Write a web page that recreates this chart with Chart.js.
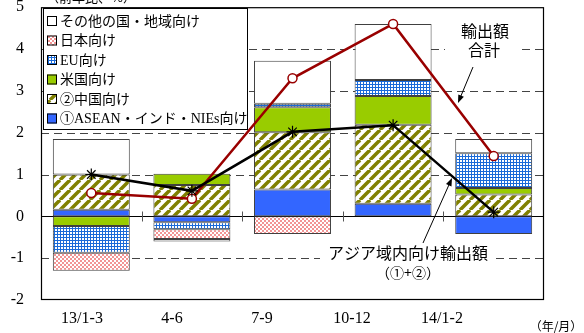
<!DOCTYPE html>
<html lang="ja">
<head>
<meta charset="utf-8">
<script src="https://cdn.jsdelivr.net/npm/chart.js@4.4.1/dist/chart.umd.min.js"></script>
<style>
  html, body { margin: 0; padding: 0; background: #fff; }
  #wrap { width: 584px; height: 333px; }
</style>
</head>
<body>
<div id="wrap"><canvas id="exportChart" width="584" height="333"></canvas></div>
<script>
const periods = ['13/1-3', '4-6', '7-9', '10-12', '14/1-2'];
const aseanValues = [0.16, -0.14, 0.64, 0.30, -0.42];
const chinaValues = [0.84, 0.75, 1.37, 1.89, 0.52];
const usValues = [-0.23, 0.27, 0.60, 0.69, 0.16];
const euValues = [-0.64, -0.17, 0.08, 0.38, 0.83];
const japanValues = [-0.43, -0.23, -0.42, 0, 0];
const otherValues = [0.85, -0.06, 1.03, 1.34, 0.34];
const totalValues = [0.56, 0.42, 3.30, 4.60, 1.44];
const asiaValues = [1.00, 0.61, 2.02, 2.18, 0.10];
const yTicks = [5, 4, 3, 2, 1, 0, -1, -2];

const SERIF = '"Liberation Serif", "Noto Sans CJK JP"';
const GOTHIC = '"Noto Sans CJK JP", sans-serif';

function makePattern(size, draw) {
   const c = document.createElement('canvas');
   c.width = size;
   c.height = size;
   const g = c.getContext('2d');
   draw(g, size);
   return document.createElement('canvas').getContext('2d').createPattern(c, 'repeat');
}

// ② china: olive diagonal hatch
const chinaFill = makePattern(10, (g, s) => {
   g.fillStyle = '#fff';
   g.fillRect(0, 0, s, s);
   g.strokeStyle = '#808000';
   g.lineWidth = 3.5;
   for (const o of [-s, 0, s]) {
      g.beginPath();
      g.moveTo(o, s);
      g.lineTo(o + s, 0);
      g.stroke();
   }
});

// EU: blue grid with white squares
const euFill = makePattern(3, (g, s) => {
   g.fillStyle = '#1a6ad8';
   g.fillRect(0, 0, s, s);
   g.fillStyle = '#fff';
   g.fillRect(1, 1, 2, 2);
});

// Japan: light pink checker
const japanFill = makePattern(4, (g, s) => {
   g.fillStyle = '#fff';
   g.fillRect(0, 0, s, s);
   g.fillStyle = '#f29494';
   g.fillRect(0, 0, 2, 2);
   g.fillRect(2, 2, 2, 2);
});

const barStyle = {
   type: 'bar',
   stack: 'bars',
   order: 2,
   borderColor: '#404040',
   borderWidth: 1,
   borderSkipped: false,
   barPercentage: 0.765,
   categoryPercentage: 1
};

const datasets = [
   { ...barStyle, label: '①ASEAN・インド・NIEs向け', data: aseanValues, backgroundColor: '#3366ff' },
   { ...barStyle, label: '②中国向け', data: chinaValues, backgroundColor: chinaFill },
   { ...barStyle, label: '米国向け', data: usValues, backgroundColor: '#99cc00' },
   { ...barStyle, label: 'EU向け', data: euValues, backgroundColor: euFill },
   { ...barStyle, label: '日本向け', data: japanValues, backgroundColor: japanFill },
   { ...barStyle, label: 'その他の国・地域向け', data: otherValues, backgroundColor: '#fff' },
   {
      type: 'line', label: '輸出額合計', data: totalValues, stack: 'total', order: 1,
      borderColor: '#990000', borderWidth: 2.5, tension: 0,
      pointStyle: 'circle', pointRadius: 4.5, pointBackgroundColor: '#fff',
      pointBorderColor: '#990000', pointBorderWidth: 1.5
   },
   {
      type: 'line', label: 'アジア域内向け輸出額', data: asiaValues, stack: 'asia', order: 0,
      borderColor: '#000', borderWidth: 2.5, tension: 0,
      pointStyle: 'star', pointRadius: 6, pointBackgroundColor: '#fff',
      pointBorderColor: '#000', pointBorderWidth: 1.2
   }
];

function arrow(ctx, x1, y1, x2, y2) {
   const ang = Math.atan2(y2 - y1, x2 - x1);
   ctx.beginPath();
   ctx.moveTo(x1, y1);
   ctx.lineTo(x2 - 5 * Math.cos(ang), y2 - 5 * Math.sin(ang));
   ctx.stroke();
   ctx.beginPath();
   ctx.moveTo(x2, y2);
   ctx.lineTo(x2 - 8 * Math.cos(ang) + 3 * Math.sin(ang), y2 - 8 * Math.sin(ang) - 3 * Math.cos(ang));
   ctx.lineTo(x2 - 8 * Math.cos(ang) - 3 * Math.sin(ang), y2 - 8 * Math.sin(ang) + 3 * Math.cos(ang));
   ctx.closePath();
   ctx.fill();
}

const framePlugin = {
   id: 'frame',
   beforeDatasetsDraw(chart) {
      const { ctx, chartArea: a, scales: { x, y } } = chart;
      ctx.save();
      ctx.lineWidth = 1;
      ctx.strokeStyle = '#444';
      ctx.setLineDash([8, 5]);
      yTicks.forEach(v => {
         if (v === 0 || v === y.min || v === y.max) return;
         const py = Math.round(y.getPixelForValue(v)) + 0.5;
         ctx.beginPath();
         ctx.moveTo(a.left, py);
         ctx.lineTo(a.right, py);
         ctx.stroke();
      });
      ctx.setLineDash([]);
      ctx.strokeStyle = '#000';
      const y0 = Math.round(y.getPixelForValue(0)) + 0.5;
      ctx.beginPath();
      ctx.moveTo(a.left, y0);
      ctx.lineTo(a.right, y0);
      ctx.stroke();
      ctx.strokeStyle = '#555';
      for (let i = 0; i < periods.length - 1; i++) {
         const bx = Math.round((x.getPixelForValue(i) + x.getPixelForValue(i + 1)) / 2) + 0.5;
         ctx.beginPath();
         ctx.moveTo(bx, y0 - 5);
         ctx.lineTo(bx, y0 + 5);
         ctx.stroke();
      }
      ctx.strokeStyle = '#000';
      ctx.lineWidth = 1.2;
      ctx.strokeRect(a.left + 0.5, a.top + 0.5, a.width - 1, a.height - 1);
      ctx.restore();
   },
   afterDraw(chart) {
      const { ctx, chartArea: a } = chart;
      ctx.save();

      // unit label, cut off at the top edge
      ctx.fillStyle = '#000';
      ctx.font = `13px ${GOTHIC}`;
      ctx.textAlign = 'left';
      ctx.textBaseline = 'alphabetic';
      ctx.fillText('（前年比、%）', 46, 2);

      // x labels
      ctx.font = `16px ${SERIF}`;
      ctx.textAlign = 'center';
      ctx.textBaseline = 'middle';
      periods.forEach((p, i) => ctx.fillText(p, a.left + 41 + i * 90, 319));
      ctx.font = `12px ${GOTHIC}`;
      ctx.fillText('（年/月）', 556, 326);

      // legend box
      ctx.fillStyle = '#fff';
      ctx.fillRect(43, 8, 204, 121);
      ctx.strokeStyle = '#000';
      ctx.lineWidth = 1;
      ctx.strokeRect(43.5, 8.5, 204, 121);
      const items = datasets.filter(d => d.type === 'bar').slice().reverse();
      ctx.font = `14px ${SERIF}`;
      ctx.textAlign = 'left';
      items.forEach((d, i) => {
         const cy = 21 + i * 19.5;
         ctx.fillStyle = d.backgroundColor;
         ctx.fillRect(47, cy - 5, 10, 10);
         ctx.strokeStyle = '#000';
         ctx.strokeRect(47.5, cy - 4.5, 9, 9);
         ctx.fillStyle = '#000';
         ctx.fillText(d.label, 60, cy + 1);
      });

      // annotations
      ctx.fillStyle = '#fff';
      ctx.fillRect(445, 20, 75, 40);
      ctx.fillRect(320, 244, 175, 38);
      ctx.fillStyle = '#000';
      ctx.font = `16px ${GOTHIC}`;
      ctx.textAlign = 'center';
      ctx.fillText('輸出額', 485, 31);
      ctx.fillText('合計', 484, 50);
      ctx.fillText('アジア域内向け輸出額', 408, 253);
      ctx.font = `14px ${GOTHIC}`;
      ctx.fillText('（①+②）', 408, 273);
      ctx.strokeStyle = '#000';
      ctx.lineWidth = 1;
      arrow(ctx, 473, 67, 458, 103);
      arrow(ctx, 423, 243, 452, 178);
      ctx.restore();
   }
};

new Chart(document.getElementById('exportChart'), {
   data: { labels: periods, datasets: datasets },
   options: {
      responsive: false,
      animation: false,
      layout: { padding: { top: 6, right: 40, bottom: 33, left: 0 } },
      plugins: { legend: { display: false }, tooltip: { enabled: false } },
      scales: {
         x: { display: false, stacked: true, offset: true },
         y: {
            stacked: true,
            min: -2,
            max: 5,
            grid: { display: false, drawTicks: false },
            border: { display: false },
            ticks: { stepSize: 1, padding: 17, color: '#000', font: { family: 'Liberation Serif', size: 16 } },
            afterFit(scale) {
               scale.width = 41;
               scale.paddingTop = 0;
               scale.paddingBottom = 0;
            }
         }
      }
   },
   plugins: [framePlugin]
});
</script>
</body>
</html>
